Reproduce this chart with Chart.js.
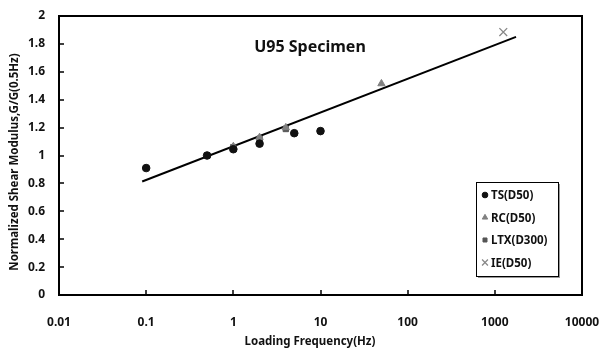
<!DOCTYPE html>
<html>
<head>
    <meta charset="UTF-8">
    <title>U95 Specimen</title>
    <script src="https://cdn.jsdelivr.net/npm/chart.js"></script>
    <style>
        body { margin: 0; background: #fff; }
        canvas { display: block; }
    </style>
</head>
<body>
    <canvas id="myChart" width="601" height="351"></canvas>

    <script>
        // data
        var freqTS = [0.1, 0.5, 1, 2, 5, 10];
        var gTS = [0.91, 1.0, 1.045, 1.085, 1.16, 1.175];
        var freqRC = [1, 2, 4, 50];
        var gRC = [1.065, 1.13, 1.2, 1.515];
        var freqLTX = [0.5, 1, 2, 4];
        var gLTX = [1.0, 1.06, 1.12, 1.19];
        var freqIE = [1250];
        var gIE = [1.885];
        var trendFreq = [0.09, 1750];
        var trendG = [0.814, 1.85];

        var xTicks = [0.01, 0.1, 1, 10, 100, 1000, 10000];
        var xTickLabels = ['0.01', '0.1', '1', '10', '100', '1000', '10000'];
        var yTicks = [0, 0.2, 0.4, 0.6, 0.8, 1, 1.2, 1.4, 1.6, 1.8, 2];

        var FONT = '"Noto Sans", "Open Sans", sans-serif';

        function pts(xs, ys) {
            var out = [];
            for (var i = 0; i < xs.length; i++) out.push({ x: xs[i], y: ys[i] });
            return out;
        }

        // frame, inward ticks, title, axis titles and legend
        var decor = {
            id: 'decor',
            afterDraw: function (chart) {
                var c = chart.ctx, a = chart.chartArea;
                var xs = chart.scales.x, ys = chart.scales.y;
                c.save();
                c.strokeStyle = '#000';
                c.lineWidth = 2;
                c.strokeRect(a.left, a.top, a.right - a.left, a.bottom - a.top);
                c.lineWidth = 1.5;
                c.beginPath();
                xTicks.forEach(function (v) {
                    var px = Math.round(xs.getPixelForValue(v));
                    c.moveTo(px, a.bottom); c.lineTo(px, a.bottom - 5);
                });
                yTicks.forEach(function (v) {
                    var py = Math.round(ys.getPixelForValue(v));
                    c.moveTo(a.left, py); c.lineTo(a.left + 5, py);
                });
                c.stroke();

                c.fillStyle = '#111';
                c.textAlign = 'center';
                c.textBaseline = 'middle';
                c.font = 'bold 16px ' + FONT;
                c.fillText('U95 Specimen', 310, 47);

                c.font = 'bold 11.5px ' + FONT;
                c.fillText('Loading Frequency(Hz)', 310, 342);
                c.save();
                c.translate(15, 162);
                c.rotate(-Math.PI / 2);
                c.fillText('Normalized Shear Modulus,G/G(0.5Hz)', 0, 0);
                c.restore();

                // legend box
                var lx = 476, ly = 182, lw = 82, lh = 94;
                c.fillStyle = '#999';
                c.fillRect(lx + 2, ly + 2, lw, lh);
                c.fillStyle = '#fff';
                c.fillRect(lx, ly, lw, lh);
                c.strokeStyle = '#000';
                c.lineWidth = 1;
                c.strokeRect(lx + 0.5, ly + 0.5, lw, lh);
                c.textAlign = 'left';
                c.font = 'bold 11.5px ' + FONT;
                var items = chart.data.datasets.filter(function (d) { return d.inLegend; });
                items.forEach(function (d, i) {
                    var yy = ly + 13 + i * 22.5;
                    c.fillStyle = d.backgroundColor;
                    c.strokeStyle = d.borderColor;
                    c.lineWidth = d.pointBorderWidth || 1;
                    Chart.helpers.drawPoint(c, {
                        pointStyle: d.pointStyle,
                        rotation: d.pointRotation || 0,
                        radius: d.pointRadius * 0.75,
                        borderWidth: d.pointBorderWidth || 1
                    }, 485, yy);
                    c.fillStyle = '#111';
                    c.fillText(d.label, 491, yy + 1);
                });
                c.restore();
            }
        };

        var ctx = document.getElementById('myChart').getContext('2d');
        var myChart = new Chart(ctx, {
            type: 'scatter',
            data: {
                datasets: [{
                    label: 'TS(D50)', inLegend: true,
                    data: pts(freqTS, gTS),
                    pointStyle: 'circle', pointRadius: 3.8,
                    backgroundColor: '#111', borderColor: '#111'
                }, {
                    label: 'RC(D50)', inLegend: true,
                    data: pts(freqRC, gRC),
                    pointStyle: 'triangle', pointRadius: 4.2,
                    backgroundColor: '#808080', borderColor: '#808080'
                }, {
                    label: 'LTX(D300)', inLegend: true,
                    data: pts(freqLTX, gLTX),
                    pointStyle: 'rect', pointRadius: 3.8,
                    backgroundColor: '#555', borderColor: '#555'
                }, {
                    label: 'IE(D50)', inLegend: true,
                    data: pts(freqIE, gIE),
                    pointStyle: 'cross', pointRotation: 45, pointRadius: 5.5, pointBorderWidth: 1.3,
                    backgroundColor: '#888', borderColor: '#888'
                }, {
                    label: 'trend',
                    data: pts(trendFreq, trendG),
                    showLine: true, pointRadius: 0,
                    borderColor: '#000', borderWidth: 2
                }]
            },
            options: {
                responsive: false,
                animation: false,
                layout: { padding: { left: 0, top: 16, right: 19, bottom: 0 } },
                plugins: { legend: { display: false }, tooltip: { enabled: false } },
                scales: {
                    x: {
                        type: 'logarithmic', min: 0.01, max: 10000,
                        afterBuildTicks: function (s) {
                            s.ticks = xTicks.map(function (v) { return { value: v }; });
                        },
                        afterFit: function (s) {
                            s.height = 56;
                            s.paddingLeft = 0;
                            s.paddingRight = 0;
                        },
                        ticks: {
                            autoSkip: false, maxRotation: 0, padding: 20, color: '#111',
                            font: { family: FONT, size: 12, weight: 'bold' },
                            callback: function (v) {
                                var i = xTicks.indexOf(v);
                                return i >= 0 ? xTickLabels[i] : '';
                            }
                        },
                        grid: { display: true, drawOnChartArea: false, drawTicks: false },
                        border: { display: false }
                    },
                    y: {
                        min: 0, max: 2,
                        afterFit: function (s) {
                            s.width = 59;
                            s.paddingTop = 0;
                            s.paddingBottom = 0;
                        },
                        ticks: {
                            stepSize: 0.2, padding: 14, color: '#111',
                            font: { family: FONT, size: 12, weight: 'bold' },
                            callback: function (v) { return String(+v.toFixed(1)); }
                        },
                        grid: { display: true, drawOnChartArea: false, drawTicks: false },
                        border: { display: false }
                    }
                }
            },
            plugins: [decor]
        });
    </script>
</body>
</html>
